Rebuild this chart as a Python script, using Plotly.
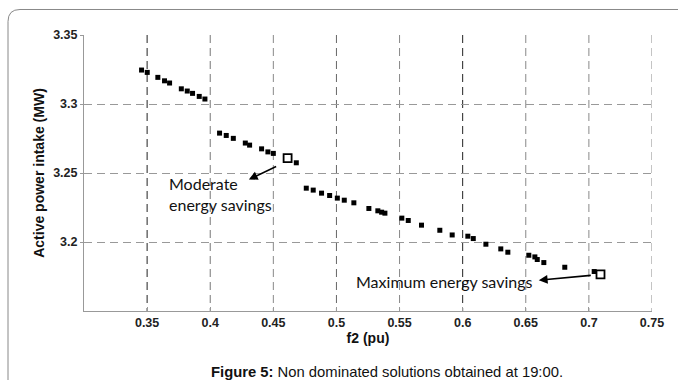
import plotly.graph_objects as go

# ---- data ----
f2 = [0.3456, 0.3501, 0.3585, 0.3638, 0.3678, 0.3771, 0.3818, 0.3860, 0.3913, 0.3958,
      0.4074, 0.4127, 0.4183, 0.4278, 0.4312, 0.4407, 0.4457, 0.4500, 0.4682,
      0.4761, 0.4816, 0.4882, 0.4946, 0.5007, 0.5062, 0.5138, 0.5257, 0.5328, 0.5358,
      0.5384, 0.5518, 0.5569, 0.5674, 0.5819, 0.5917, 0.6041, 0.6084, 0.6184, 0.6302,
      0.6358, 0.6524, 0.6572, 0.6591, 0.6643, 0.6809, 0.7042]
power = [3.3246, 3.3229, 3.3193, 3.3168, 3.3152, 3.3110, 3.3094, 3.3077, 3.3055, 3.3036,
         3.2789, 3.2772, 3.2751, 3.2717, 3.2702, 3.2675, 3.2653, 3.2642, 3.2574,
         3.2390, 3.2376, 3.2354, 3.2337, 3.2318, 3.2303, 3.2284, 3.2243, 3.2226, 3.2216,
         3.2209, 3.2173, 3.2156, 3.2122, 3.2085, 3.2051, 3.2042, 3.2025, 3.1984, 3.1950,
         3.1926, 3.1904, 3.1892, 3.1873, 3.1851, 3.1817, 3.1786]

sel_f2 = [0.4613, 0.7092]
sel_power = [3.2608, 3.1766]
sel_labels = ["Moderate<br>energy savings", "Maximum energy savings"]

x_ticks = [0.35, 0.4, 0.45, 0.5, 0.55, 0.6, 0.65, 0.7, 0.75]
x_ticktext = ["0.35", "0.4", "0.45", "0.5", "0.55", "0.6", "0.65", "0.7", "0.75"]
y_ticks = [3.2, 3.25, 3.3, 3.35]
y_ticktext = ["3.2", "3.25", "3.3", "3.35"]
x_grid_colors = ["#222", "#777", "#888", "#666", "#888", "#222", "#888", "#888", "#888"]

# label/arrow anchor points (data coords)
label_pos = [(0.3654, 3.2347), (0.514, 3.1716)]
arrow_head = [(0.4306, 3.2453), (0.6603, 3.1723)]
arrow_tail = [(0.4534, 3.2552), (0.7027, 3.1759)]

fig = go.Figure()
fig.add_trace(go.Scatter(
    x=f2, y=power, mode="markers",
    marker=dict(symbol="square", size=5, color="black", line=dict(width=0)),
    showlegend=False, hoverinfo="x+y"))
fig.add_trace(go.Scatter(
    x=sel_f2, y=sel_power, mode="markers",
    marker=dict(symbol="square-open", size=8, color="black", line=dict(width=1.8)),
    showlegend=False, hoverinfo="x+y"))

tick_font = dict(family="Liberation Sans, Arial, sans-serif", size=12.5, color="#222",
                 weight="bold")
title_font = dict(family="Liberation Sans, Arial, sans-serif", size=14, color="#111")

fig.update_xaxes(
    range=[0.3, 0.75], tickvals=x_ticks, ticktext=x_ticktext,
    showline=True, linecolor="#999", linewidth=1, mirror=False,
    showgrid=False,
    ticks="inside", ticklen=4, tickcolor="#999",
    tickfont=tick_font, zeroline=False,
    title=dict(text="<b>f2 (pu)</b>", font=title_font, standoff=2))
fig.update_yaxes(
    range=[3.15, 3.35], tickvals=y_ticks, ticktext=y_ticktext,
    showline=True, linecolor="#999", linewidth=1, mirror=False,
    showgrid=True, gridcolor="#999", griddash="8px,5px", gridwidth=1,
    ticks="outside", ticklen=3, tickcolor="#999",
    tickfont=tick_font, zeroline=False,
    title=dict(text="<b>Active power intake (MW)</b>", font=title_font, standoff=5))

shapes = []
for xv, col in zip(x_ticks, x_grid_colors):
    shapes.append(dict(type="line", xref="x", yref="paper", x0=xv, x1=xv, y0=1, y1=0,
                       line=dict(color=col, width=1, dash="8px,5px"), layer="below"))

# rounded frame around the figure (paper coordinates)
x0, yt, xr, yb = -0.1338, 1.0924, 1.07, -0.30
rx, ry = 0.0211, 0.0435
frame_path = (f"M {x0},{yb} L {x0},{yt - ry} Q {x0},{yt} {x0 + rx},{yt} L {xr},{yt}")
shapes.append(dict(type="path", xref="paper", yref="paper", path=frame_path,
                   line=dict(color="#888", width=1)))

annotations = []
ann_font = dict(family="Lato, Liberation Sans, sans-serif", size=16, color="#111")
for (lx, ly), txt in zip(label_pos, sel_labels):
    annotations.append(dict(x=lx, y=ly, xref="x", yref="y", text=txt, showarrow=False,
                            xanchor="left", yanchor="middle", align="left", font=ann_font))
for (hx, hy), (tx, ty) in zip(arrow_head, arrow_tail):
    annotations.append(dict(x=hx, y=hy, ax=tx, ay=ty, xref="x", yref="y",
                            axref="x", ayref="y", text="", showarrow=True,
                            arrowhead=2, arrowsize=1.1, arrowwidth=1.6, arrowcolor="black"))
annotations.append(dict(
    x=0.5335, y=-0.221, xref="paper", yref="paper", xanchor="center", yanchor="middle",
    text="<b>Figure 5:</b> Non dominated solutions obtained at 19:00.", showarrow=False,
    font=dict(family="Liberation Sans, Arial, sans-serif", size=14.8, color="#111")))

fig.update_layout(
    width=678, height=380, autosize=False,
    margin=dict(l=84, r=26, t=35, b=69),
    paper_bgcolor="white", plot_bgcolor="white",
    shapes=shapes, annotations=annotations)

fig.write_html("out.html")
